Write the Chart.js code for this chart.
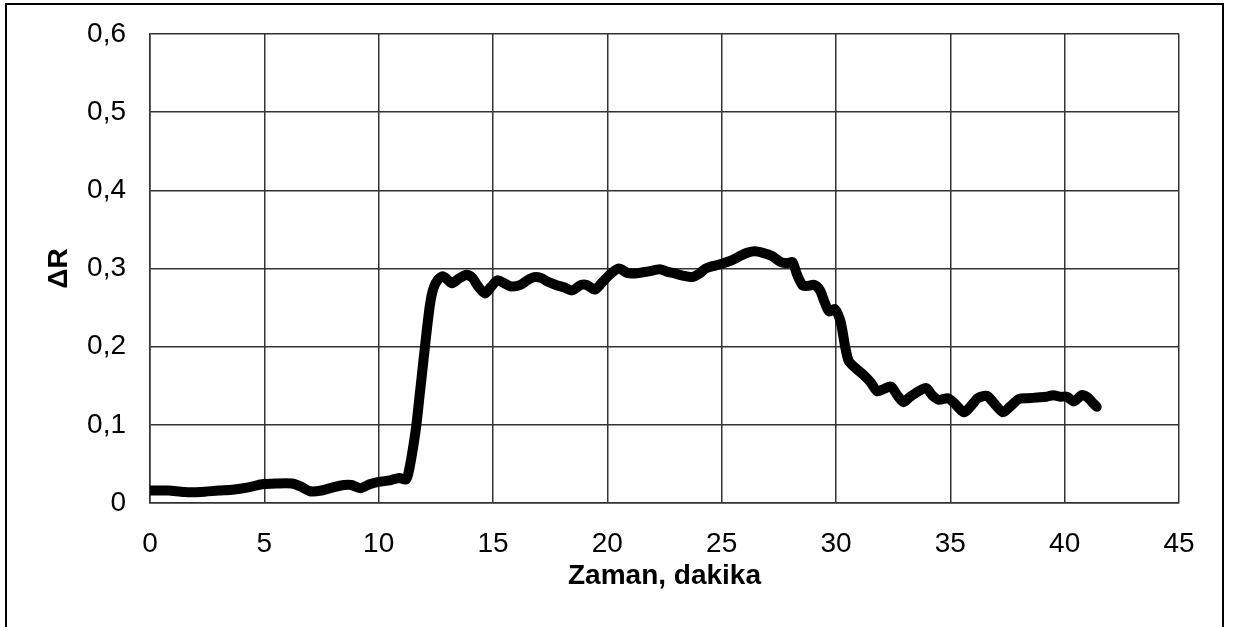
<!DOCTYPE html>
<html>
<head>
<meta charset="utf-8">
<script src="https://cdn.jsdelivr.net/npm/chart.js@4"></script>
<style>
    html, body { margin: 0; padding: 0; background: #fff; overflow: hidden; }
    #wrap { position: relative; width: 1233px; height: 627px; }
    #frame {
        position: absolute; left: 5px; top: 3px;
        width: 1219px; height: 700px;
        box-sizing: border-box; border: 2px solid #000;
        pointer-events: none;
    }
</style>
</head>
<body>
<div id="wrap">
    <canvas id="delta-r" width="1233" height="627"></canvas>
    <div id="frame"></div>
</div>
<script>
// time, minutes
const minutes = [
    0, 0.8, 1.5, 2.2, 3.0, 3.6, 4.3, 4.9, 5.5, 6.2, 6.6, 7.0, 7.5, 8.0, 8.5, 8.8,
    9.2, 9.6, 10.0, 10.5, 10.9, 11.2,
    11.35, 11.5, 11.65, 11.8, 11.95, 12.1, 12.25, 12.4, 12.6, 12.8, 13.0, 13.2,
    13.5, 13.85, 14.1, 14.35, 14.65, 14.9, 15.2, 15.5, 15.8, 16.2, 16.5, 16.8,
    17.1, 17.4, 17.75, 18.1, 18.45, 18.85, 19.1, 19.45, 19.8, 20.1, 20.5, 20.9,
    21.3, 21.75, 22.3, 22.6, 22.9, 23.3, 23.7, 24.0, 24.3, 24.6, 25.0, 25.4,
    25.8, 26.1, 26.45, 26.8, 27.2, 27.6, 27.9, 28.1, 28.3, 28.55, 28.8, 29.05,
    29.3, 29.5, 29.7, 29.95, 30.2, 30.4, 30.55, 30.8, 31.2, 31.5, 31.8, 32.1,
    32.4, 32.7, 32.95, 33.2, 33.5, 33.95, 34.2, 34.5, 34.9, 35.2, 35.6, 35.9,
    36.2, 36.6, 36.9, 37.3, 37.6, 38.0, 38.4, 38.8, 39.2, 39.5, 39.8, 40.1,
    40.4, 40.75, 41.0, 41.2, 41.4
];
// ΔR
const deltaR = [
    0.016, 0.016, 0.014, 0.014, 0.016, 0.017, 0.020, 0.024, 0.025, 0.025, 0.021, 0.015, 0.016, 0.020, 0.023, 0.023,
    0.019, 0.024, 0.027, 0.029, 0.032, 0.030,
    0.045, 0.070, 0.100, 0.140, 0.180, 0.220, 0.255, 0.275, 0.286, 0.290, 0.286, 0.281,
    0.287, 0.292, 0.288, 0.277, 0.268, 0.276, 0.285, 0.281, 0.277, 0.279, 0.285, 0.289,
    0.288, 0.283, 0.279, 0.276, 0.272, 0.279, 0.279, 0.273, 0.283, 0.292, 0.300, 0.294,
    0.294, 0.296, 0.299, 0.296, 0.294, 0.291, 0.289, 0.293, 0.300, 0.303, 0.306, 0.310,
    0.316, 0.320, 0.322, 0.320, 0.316, 0.308, 0.307, 0.308, 0.292, 0.278, 0.278, 0.279,
    0.272, 0.257, 0.245, 0.248, 0.232, 0.200, 0.182, 0.174, 0.164, 0.155, 0.143, 0.146,
    0.149, 0.137, 0.129, 0.135, 0.141, 0.147, 0.138, 0.132, 0.134, 0.127, 0.116, 0.124,
    0.134, 0.137, 0.128, 0.116, 0.123, 0.133, 0.134, 0.135, 0.136, 0.138, 0.136, 0.136,
    0.130, 0.138, 0.135, 0.129, 0.123
];
const xTicks = [0, 5, 10, 15, 20, 25, 30, 35, 40, 45];
const yTicks = [0, 0.1, 0.2, 0.3, 0.4, 0.5, 0.6];

const tickFont = { family: 'Liberation Sans, Arial, sans-serif', size: 28 };
const titleFont = { family: 'Liberation Sans, Arial, sans-serif', size: 28, weight: 'bold' };
const gridColor = '#333';

let points = minutes.map(function(m, i) { return { x: m, y: deltaR[i] }; });

let config = {
    type: 'line',
    data: {
        datasets: [{
            data: points,
            borderColor: '#000',
            borderWidth: 10,
            borderCapStyle: 'round',
            borderJoinStyle: 'round',
            pointRadius: 0,
            tension: 0.25,
            fill: false
        }]
    },
    options: {
        responsive: false,
        animation: false,
        layout: { padding: { top: 34, right: 54, left: 0, bottom: 0 } },
        plugins: {
            legend: { display: false },
            tooltip: { enabled: false }
        },
        scales: {
            x: {
                type: 'linear',
                min: 0,
                max: 45,
                afterBuildTicks: function(scale) {
                    scale.ticks = xTicks.map(function(v) { return { value: v }; });
                },
                afterFit: function(scale) { scale.height = 124; },
                ticks: {
                    color: '#000',
                    font: tickFont,
                    padding: 24,
                    maxRotation: 0,
                    callback: function(v) { return String(v); }
                },
                grid: { color: gridColor, lineWidth: 1.5, drawTicks: false },
                border: { color: gridColor, width: 1.5 },
                title: {
                    display: true,
                    text: 'Zaman, dakika',
                    color: '#000',
                    font: titleFont,
                    padding: { top: 0, bottom: 34 }
                }
            },
            y: {
                min: 0,
                max: 0.6,
                afterBuildTicks: function(scale) {
                    scale.ticks = yTicks.map(function(v) { return { value: v }; });
                },
                afterFit: function(scale) {
                    scale.width = 150;
                    // tick padding would otherwise push the plot top down
                    scale.paddingTop = 0;
                },
                ticks: {
                    color: '#000',
                    font: tickFont,
                    padding: 24,
                    callback: function(v) { return v === 0 ? '0' : v.toFixed(1).replace('.', ','); }
                },
                grid: { color: gridColor, lineWidth: 1.5, drawTicks: false },
                border: { color: gridColor, width: 1.5 },
                title: {
                    display: true,
                    text: 'ΔR',
                    color: '#000',
                    font: titleFont,
                    padding: { top: 42, bottom: 0 }
                }
            }
        }
    }
};

let chart = new Chart(document.getElementById('delta-r'), config);
</script>
</body>
</html>
